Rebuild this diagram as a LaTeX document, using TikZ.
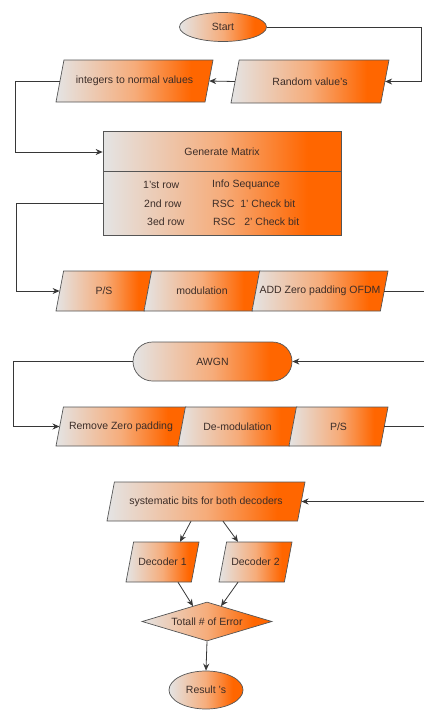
\documentclass[tikz,border=0pt]{standalone}
\usepackage{fontspec}
\setmainfont{Liberation Sans}
\usetikzlibrary{shapes.geometric,arrows.meta,calc}
\definecolor{lg}{RGB}{228,228,228}
\definecolor{pch}{RGB}{246,172,122}
\definecolor{org}{RGB}{255,102,0}
\definecolor{edgec}{RGB}{85,85,85}
\definecolor{linec}{RGB}{55,55,55}
\definecolor{txt}{RGB}{60,45,40}
\pgfdeclarehorizontalshading{og}{100bp}{color(0bp)=(lg); color(25bp)=(lg); color(50bp)=(pch); color(68bp)=(org); color(75bp)=(org); color(100bp)=(org)}
% #1 name, #2 cx, #3 cy, #4 total width, #5 height, #6 text
\newcommand\parabox[6]{%
  \pgfmathsetmacro\pbs{#5*0.19}%
  \pgfmathsetmacro\pbw{#4-\pbs}%
  \path[box] ({#2-#4/2},{#3+#5/2}) -- ({#2+#4/2-\pbs},{#3+#5/2})
    -- ({#2+#4/2},{#3-#5/2}) -- ({#2-#4/2+\pbs},{#3-#5/2}) -- cycle;
  \node[txtnode, minimum width=\pbw pt, minimum height=#5 pt] (#1) at (#2,#3) {#6};
}
\begin{document}
\begin{tikzpicture}[x=1pt,y=-1pt,
  every node/.style={font=\fontsize{10.5}{12}\selectfont, text=txt},
  box/.style={draw=edgec, line width=0.7pt, shading=og, inner sep=0pt},
  txtnode/.style={inner sep=0pt},
  conn/.style={draw=linec, line width=0.8pt},
  arr/.style={conn, -{Stealth[length=7pt,width=6pt]}}]
\useasboundingbox (0,0) rectangle (424,710);

% top
\node[box, ellipse, minimum width=87pt, minimum height=29pt] (start) at (223,27) {Start};
\parabox{rand}{310}{81.5}{158}{43}{Random value's}
\parabox{int}{134.5}{81}{157}{42}{integers to normal values}

% generate matrix
\node[box, minimum width=238pt, minimum height=104pt] (gm) at (222,183) {};
\coordinate (dl) at (103,171);
\coordinate (dr) at (341,171);
\draw[draw=edgec, line width=0.7pt] (dl) -- (dr);
\node[txtnode] (gmt) at (222,152) {Generate Matrix};
\node[txtnode, anchor=west] (r1l) at (143,185) {1'st row};
\node[txtnode, anchor=west] (r2l) at (144,203.5) {2nd row};
\node[txtnode, anchor=west] (r3l) at (147,222) {3ed row};
\node[txtnode, anchor=west] (r1r) at (212,185) {Info Sequance};
\node[txtnode, anchor=west] (r2r) at (212,203.5) {RSC\hspace{6pt}1' Check bit};
\node[txtnode, anchor=west] (r3r) at (213,222) {RSC\hspace{9pt}2' Check bit};

% row 1
\parabox{ps1}{104}{291}{96}{40}{P/S}
\parabox{mod}{202}{291}{116}{40}{modulation}
\parabox{add}{320}{291}{136}{40}{ADD Zero padding OFDM}

% AWGN
\node[box, rounded corners=19.5pt, minimum width=159pt, minimum height=39pt] (awgn) at (212.5,361.5) {AWGN};

% row 2
\parabox{rem}{121}{426.5}{130}{39}{Remove Zero padding}
\parabox{demod}{237.5}{426.5}{119}{39}{De-modulation}
\parabox{ps2}{338.5}{426.5}{99}{39}{P/S}

% decoders
\parabox{sys}{206}{501.5}{198}{39}{systematic bits for both decoders}
\parabox{dec1}{162.5}{562}{73}{40}{Decoder 1}
\parabox{dec2}{255.5}{562}{73}{40}{Decoder 2}
\node[box, diamond, aspect=3.33, minimum width=130pt, minimum height=39pt] (tot) at (207,621.5) {Totall \# of Error};
\node[box, ellipse, minimum width=74pt, minimum height=38pt] (res) at (206,690) {Result 's};

% helper coordinates
\coordinate (rx) at (421,27);
\coordinate (lx1) at (15,81);
\coordinate (lx2) at (16,204);
\coordinate (lx3) at (13,362);
\coordinate (e1) at (424,291);
\coordinate (e2) at (424,361.5);
\coordinate (e3) at (424,426.5);
\coordinate (e4) at (424,501.5);

% connectors
\draw[arr] (start.east) -| (rx |- rand.east) -- (rand.east);
\draw[arr] (rand.west) -- (int.east);
\draw[arr] (int.west) -| (lx1 |- gmt) -- (gm.west |- gmt);
\draw[arr] (gm.west |- r2l) -- (lx2 |- r2l) |- (ps1.west);
\draw[conn] (add.east) -- (e1);
\draw[arr] (e2) -- (awgn.east);
\draw[arr] (awgn.west) -| (lx3 |- rem.west) -- (rem.west);
\draw[conn] (ps2.east) -- (e3);
\draw[arr] (e4) -- (sys.east);
\draw[arr] ($(sys.south)+(-15,0)$) -- ($(dec1.north)+(17.5,0)$);
\draw[arr] ($(sys.south)+(17,0)$) -- ($(dec2.north)+(-17.5,0)$);
\draw[arr] ($(dec1.south)+(15.5,0)$) -- ($(tot.north)+(-14,4.5)$);
\draw[arr] ($(dec2.south)+(-17.5,0)$) -- ($(tot.north)+(14,4.5)$);
\draw[arr] (tot.south) -- (res.north);
\end{tikzpicture}
\end{document}
